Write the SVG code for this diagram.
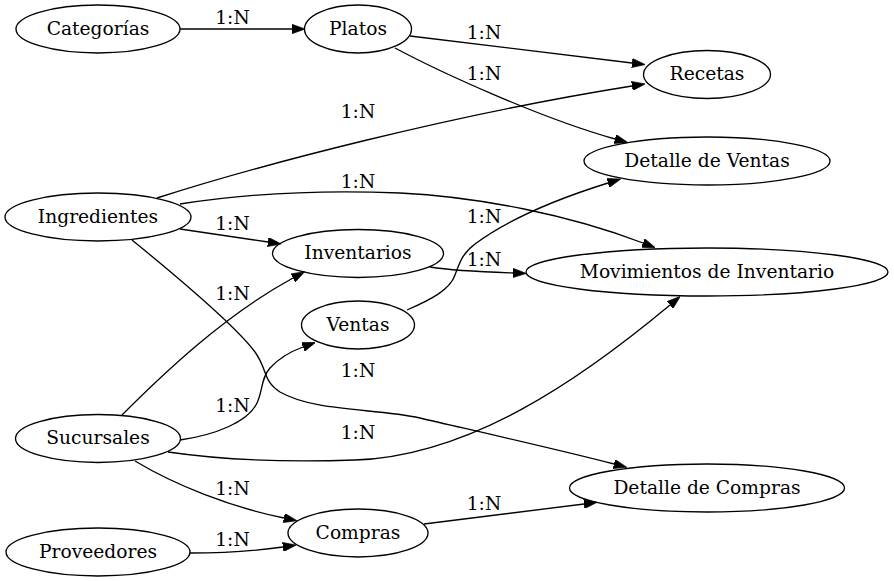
<svg xmlns="http://www.w3.org/2000/svg" width="894" height="581" viewBox="0 0 894 581">
<style>
text{font-family:"DejaVu Serif","Liberation Serif",serif;font-size:18.67px;text-anchor:middle;fill:#000}
ellipse{fill:none;stroke:#000;stroke-width:1.33}
.e path{fill:none;stroke:#000;stroke-width:1.33}
</style>
<defs>
<marker id="ah" viewBox="0 0 10 7" refX="0" refY="3.5" markerWidth="13.3" markerHeight="9.3" markerUnits="userSpaceOnUse" orient="auto">
<path d="M0,0 L10,3.5 L0,7 z" fill="#000" stroke="#000" stroke-width="0.5"/>
</marker>
</defs>
<rect width="894" height="581" fill="#fff"/>
<g class="e" id="connectors">
<path marker-end="url(#ah)" d="M180,29 L292,29"/>
<path marker-end="url(#ah)" d="M410,36 L632,63"/>
<path marker-end="url(#ah)" d="M395,48 C440,72 540,118 615,139"/>
<path marker-end="url(#ah)" d="M157,198 C260,165 450,115 632,86"/>
<path marker-end="url(#ah)" d="M180,204 C250,193 330,190 400,193 C480,197 570,215 643,243"/>
<path marker-end="url(#ah)" d="M180,229 L268,242"/>
<path marker-end="url(#ah)" d="M132,240 C175,275 235,325 255,352 C268,370 262,380 280,392 C315,412 375,408 420,418 C480,432 560,450 614,464"/>
<path marker-end="url(#ah)" d="M122,415 C165,372 225,315 293,278"/>
<path marker-end="url(#ah)" d="M180,440 C215,435 248,422 257,403 C263,390 261,378 270,368 C280,357 292,351 303,347"/>
<path marker-end="url(#ah)" d="M168,452 C230,461 300,462 355,460 C470,456 580,380 670,305"/>
<path marker-end="url(#ah)" d="M135,461 C175,485 230,507 284,518"/>
<path marker-end="url(#ah)" d="M190,553 C220,553 255,551 283,547"/>
<path marker-end="url(#ah)" d="M430,267 C455,271 485,272 513,273"/>
<path marker-end="url(#ah)" d="M407,310 C430,300 450,290 455,275 C460,262 462,254 475,244 C510,218 560,198 608,183"/>
<path marker-end="url(#ah)" d="M424,524 L584,504"/>
<text x="232.5" y="24">1:N</text>
<text x="484" y="38.5">1:N</text>
<text x="484" y="80">1:N</text>
<text x="358" y="118">1:N</text>
<text x="358" y="187.5">1:N</text>
<text x="232.5" y="230">1:N</text>
<text x="484" y="222.5">1:N</text>
<text x="484" y="266">1:N</text>
<text x="232.5" y="300">1:N</text>
<text x="358" y="377">1:N</text>
<text x="232.5" y="412">1:N</text>
<text x="358" y="438.5">1:N</text>
<text x="232.5" y="495">1:N</text>
<text x="484" y="510">1:N</text>
<text x="232.5" y="546">1:N</text>
</g>
<g id="categorias"><ellipse cx="98" cy="29" rx="82" ry="24"/><text x="98" y="34.5">Categorías</text></g>
<g id="platos"><ellipse cx="358" cy="29" rx="53.5" ry="24"/><text x="358" y="34.5">Platos</text></g>
<g id="recetas"><ellipse cx="707" cy="74.5" rx="63.5" ry="24"/><text x="707" y="80">Recetas</text></g>
<g id="detalle_ventas"><ellipse cx="707" cy="161" rx="123" ry="24"/><text x="707" y="166.5">Detalle de Ventas</text></g>
<g id="ingredientes"><ellipse cx="98" cy="217" rx="93" ry="24"/><text x="98" y="222.5">Ingredientes</text></g>
<g id="inventarios"><ellipse cx="358" cy="253.5" rx="85.5" ry="24"/><text x="358" y="259">Inventarios</text></g>
<g id="movimientos"><ellipse cx="707" cy="272" rx="181" ry="24"/><text x="707" y="277.5">Movimientos de Inventario</text></g>
<g id="ventas"><ellipse cx="358" cy="325" rx="56.5" ry="24"/><text x="358" y="330.5">Ventas</text></g>
<g id="sucursales"><ellipse cx="98" cy="438.5" rx="82.5" ry="24"/><text x="98" y="444">Sucursales</text></g>
<g id="detalle_compras"><ellipse cx="707" cy="488" rx="137.5" ry="24"/><text x="707" y="493.5">Detalle de Compras</text></g>
<g id="compras"><ellipse cx="358" cy="533" rx="70" ry="24"/><text x="358" y="538.5">Compras</text></g>
<g id="proveedores"><ellipse cx="98" cy="552" rx="92" ry="24"/><text x="98" y="557.5">Proveedores</text></g>
</svg>
